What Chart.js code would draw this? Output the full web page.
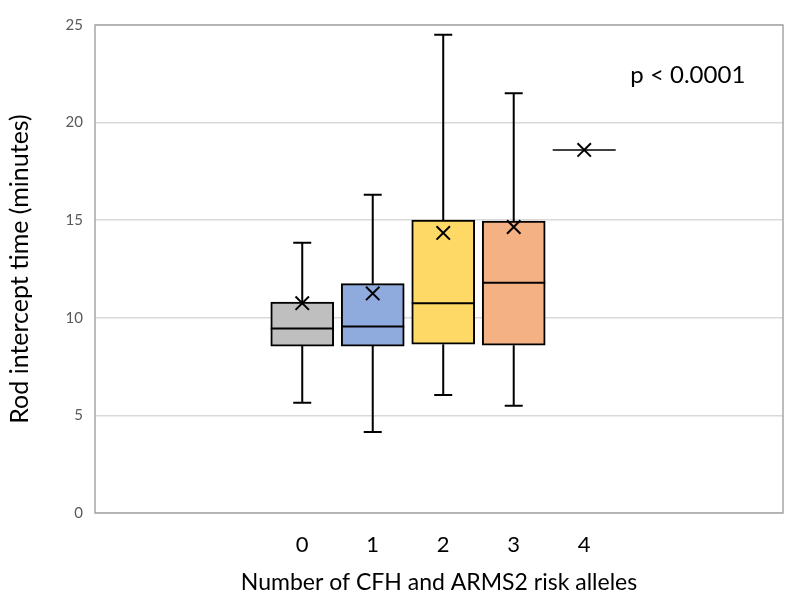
<!DOCTYPE html>
<html>
<head>
<meta charset="utf-8">
<script src="https://cdn.jsdelivr.net/npm/chart.js@4"></script>
<style>
  body { margin: 0; background: #fff; }
  canvas { display: block; }
</style>
</head>
<body>
<canvas id="boxChart" width="800" height="598"></canvas>
<script>
// risk allele groups and their box plot stats
const categories = [0, 1, 2, 3, 4];
const tickLabels = ['0', '1', '2', '3', '4'];
const minVals = [5.65, 4.15, 6.05, 5.5, 18.6];
const q1Vals = [8.55, 8.55, 8.65, 8.6, 18.6];
const medianVals = [9.45, 9.55, 10.75, 11.8, 18.6];
const q3Vals = [10.8, 11.75, 15.0, 14.95, 18.6];
const maxVals = [13.85, 16.3, 24.5, 21.5, 18.6];
const meanVals = [10.75, 11.25, 14.35, 14.65, 18.6];
const boxColors = ['#bfbfbf', '#8faadc', '#ffd966', '#f4b183', '#ffffff'];
const yTicks = [0, 5, 10, 15, 20, 25];
const pLabel = 'p < 0.0001';

const FONT = 'Lato, "Liberation Sans", sans-serif';
const BOX_PX = 63;
const CAP_PX = 18;

// whiskers, medians, frame and p value
const boxExtras = {
    id: 'boxExtras',
    afterDatasetsDraw(chart) {
        const ctx = chart.ctx;
        const x = chart.scales.x;
        const y = chart.scales.y;
        ctx.save();
        ctx.strokeStyle = '#000';
        ctx.lineCap = 'butt';
        categories.forEach((c, i) => {
            const px = x.getPixelForValue(c);
            ctx.lineWidth = 2;
            if (maxVals[i] > q3Vals[i]) {
                ctx.beginPath();
                ctx.moveTo(px, y.getPixelForValue(q3Vals[i]));
                ctx.lineTo(px, y.getPixelForValue(maxVals[i]));
                ctx.moveTo(px - CAP_PX / 2, y.getPixelForValue(maxVals[i]));
                ctx.lineTo(px + CAP_PX / 2, y.getPixelForValue(maxVals[i]));
                ctx.stroke();
            }
            if (minVals[i] < q1Vals[i]) {
                ctx.beginPath();
                ctx.moveTo(px, y.getPixelForValue(q1Vals[i]));
                ctx.lineTo(px, y.getPixelForValue(minVals[i]));
                ctx.moveTo(px - CAP_PX / 2, y.getPixelForValue(minVals[i]));
                ctx.lineTo(px + CAP_PX / 2, y.getPixelForValue(minVals[i]));
                ctx.stroke();
            }
            ctx.lineWidth = q3Vals[i] > q1Vals[i] ? 2 : 1.5;
            const my = y.getPixelForValue(medianVals[i]);
            ctx.beginPath();
            ctx.moveTo(px - BOX_PX / 2, my);
            ctx.lineTo(px + BOX_PX / 2, my);
            ctx.stroke();
        });
        // plot frame
        const a = chart.chartArea;
        ctx.strokeStyle = '#a6a6a6';
        ctx.lineWidth = 1.5;
        ctx.strokeRect(a.left, a.top, a.right - a.left, a.bottom - a.top);
        // p value
        ctx.fillStyle = '#000';
        ctx.font = '24px ' + FONT;
        ctx.textAlign = 'center';
        ctx.textBaseline = 'middle';
        ctx.fillText(pLabel, x.getPixelForValue(5.47), y.getPixelForValue(22.45));
        ctx.restore();
    }
};

const ctx = document.getElementById('boxChart').getContext('2d');
const boxChart = new Chart(ctx, {
    type: 'bar',
    data: {
        datasets: [{
            type: 'scatter',
            label: 'Mean',
            data: categories.map((c, i) => ({ x: c, y: meanVals[i] })),
            pointStyle: 'crossRot',
            pointRadius: 9.5,
            borderColor: '#000',
            borderWidth: 2,
            showLine: false
        }, {
            type: 'bar',
            label: 'IQR',
            data: categories.map((c, i) => ({ x: c, y: q3Vals[i] > q1Vals[i] ? [q1Vals[i], q3Vals[i]] : null })),
            backgroundColor: boxColors,
            borderColor: '#000',
            borderWidth: 2,
            borderSkipped: false,
            barThickness: BOX_PX
        }]
    },
    options: {
        responsive: false,
        animation: false,
        layout: { padding: { top: 25, right: 17, left: 0, bottom: 0 } },
        plugins: {
            legend: { display: false },
            tooltip: { enabled: false }
        },
        scales: {
            x: {
                type: 'linear',
                min: -2.94,
                max: 6.82,
                offset: false,
                afterBuildTicks: function(scale) {
                    scale.ticks = categories.map(v => ({ value: v }));
                },
                afterFit: function(scale) { scale.height = 85; },
                ticks: {
                    color: '#000',
                    font: { family: FONT, size: 22 },
                    padding: 11,
                    autoSkip: false,
                    maxRotation: 0,
                    callback: function(value, index) { return tickLabels[index]; }
                },
                grid: { display: false },
                border: { display: false },
                title: {
                    display: true,
                    text: 'Number of CFH and ARMS2 risk alleles',
                    color: '#000',
                    font: { family: FONT, size: 23 },
                    padding: { top: 0, bottom: 2 }
                }
            },
            y: {
                min: 0,
                max: 25,
                afterBuildTicks: function(scale) {
                    scale.ticks = yTicks.map(v => ({ value: v }));
                },
                afterFit: function(scale) { scale.width = 95; },
                ticks: {
                    color: '#595959',
                    font: { family: FONT, size: 15 },
                    padding: 12
                },
                grid: { color: '#d9d9d9', lineWidth: 1.5, drawTicks: false },
                border: { display: false },
                title: {
                    display: true,
                    text: 'Rod intercept time (minutes)',
                    color: '#000',
                    font: { family: FONT, size: 25 },
                    padding: { top: 5, bottom: 0 }
                }
            }
        }
    },
    plugins: [boxExtras]
});
</script>
</body>
</html>
